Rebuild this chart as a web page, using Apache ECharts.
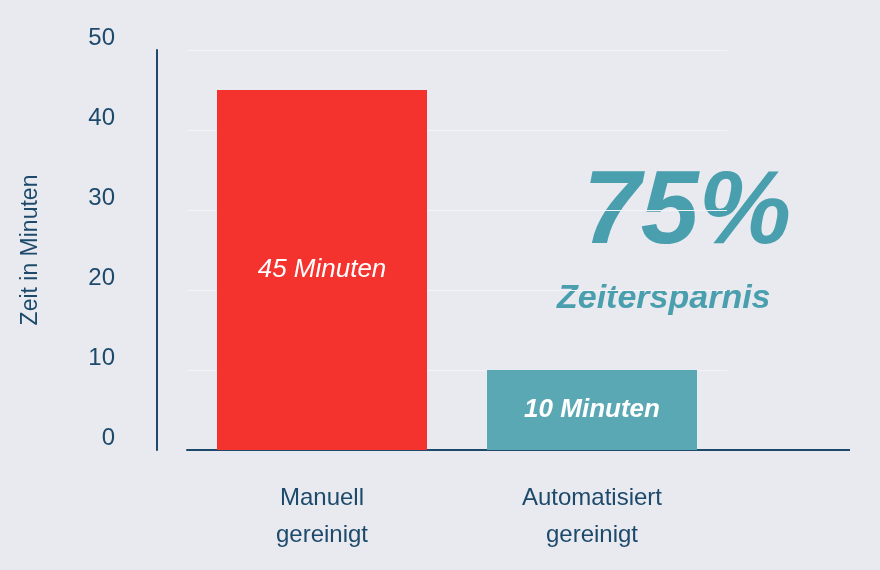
<!DOCTYPE html>
<html><head><meta charset="utf-8">
<script src="https://cdn.jsdelivr.net/npm/echarts@6/dist/echarts.min.js"></script>
<style>html,body{margin:0;padding:0;background:#e8eaf0}#c{width:880px;height:570px}</style>
</head><body><div id="c"></div>
<script>
const categories = ['Manuell\ngereinigt', 'Automatisiert\ngereinigt'];
const values = [45, 10];
const barLabels = ['45 Minuten', '10 Minuten'];
const barColors = ['#f4332f', '#5ba8b5'];
const yTicks = [0, 10, 20, 30, 40, 50];
const dark = '#1d4a6b';
const chart = echarts.init(document.getElementById('c'));
chart.setOption({
  backgroundColor: '#e8eaf0',
  grid: {left: 187, right: 153, top: 50, bottom: 120},
  xAxis: {
    type: 'category', data: categories,
    axisLine: {lineStyle: {color: dark, width: 2}},
    axisTick: {show: false},
    axisLabel: {color: dark, fontSize: 24, lineHeight: 37, margin: 30, fontFamily: 'Liberation Sans'}
  },
  yAxis: {
    type: 'value', min: yTicks[0], max: yTicks[yTicks.length-1], interval: 10, offset: 30,
    name: 'Zeit in Minuten', nameLocation: 'middle', nameGap: 115, nameRotate: 90,
    nameTextStyle: {color: dark, fontSize: 23, fontFamily: 'Liberation Sans'},
    axisLine: {show: true, lineStyle: {color: dark, width: 2}},
    axisTick: {show: false},
    splitLine: {lineStyle: {color: '#f3f4f7', width: 1}},
    axisLabel: {color: dark, fontSize: 24, margin: 42, verticalAlign: 'bottom', fontFamily: 'Liberation Sans'}
  },
  series: [{
    type: 'bar', barWidth: 210,
    data: values.map((v, i) => ({
      value: v, itemStyle: {color: barColors[i]},
      label: {show: true, position: 'inside', formatter: barLabels[i], color: '#fff',
        fontSize: 26, fontStyle: 'italic', fontWeight: i ? 'bold' : 'normal', fontFamily: 'Liberation Sans'}
    }))
  }],
  graphic: [
    {type: 'line', shape: {x1: 727, y1: 450, x2: 850, y2: 450}, style: {stroke: dark, lineWidth: 2}},
    {type: 'text', left: 583, top: 162, style: {text: '75%', fill: '#4a9fae', fontSize: 104, fontWeight: 'bold', fontStyle: 'italic', fontFamily: 'Liberation Sans'}},
    {type: 'text', left: 557, top: 282, style: {text: 'Zeitersparnis', fill: '#4a9fae', fontSize: 34, fontWeight: 'bold', fontStyle: 'italic', fontFamily: 'Liberation Sans'}}
  ]
});
</script></body></html>
